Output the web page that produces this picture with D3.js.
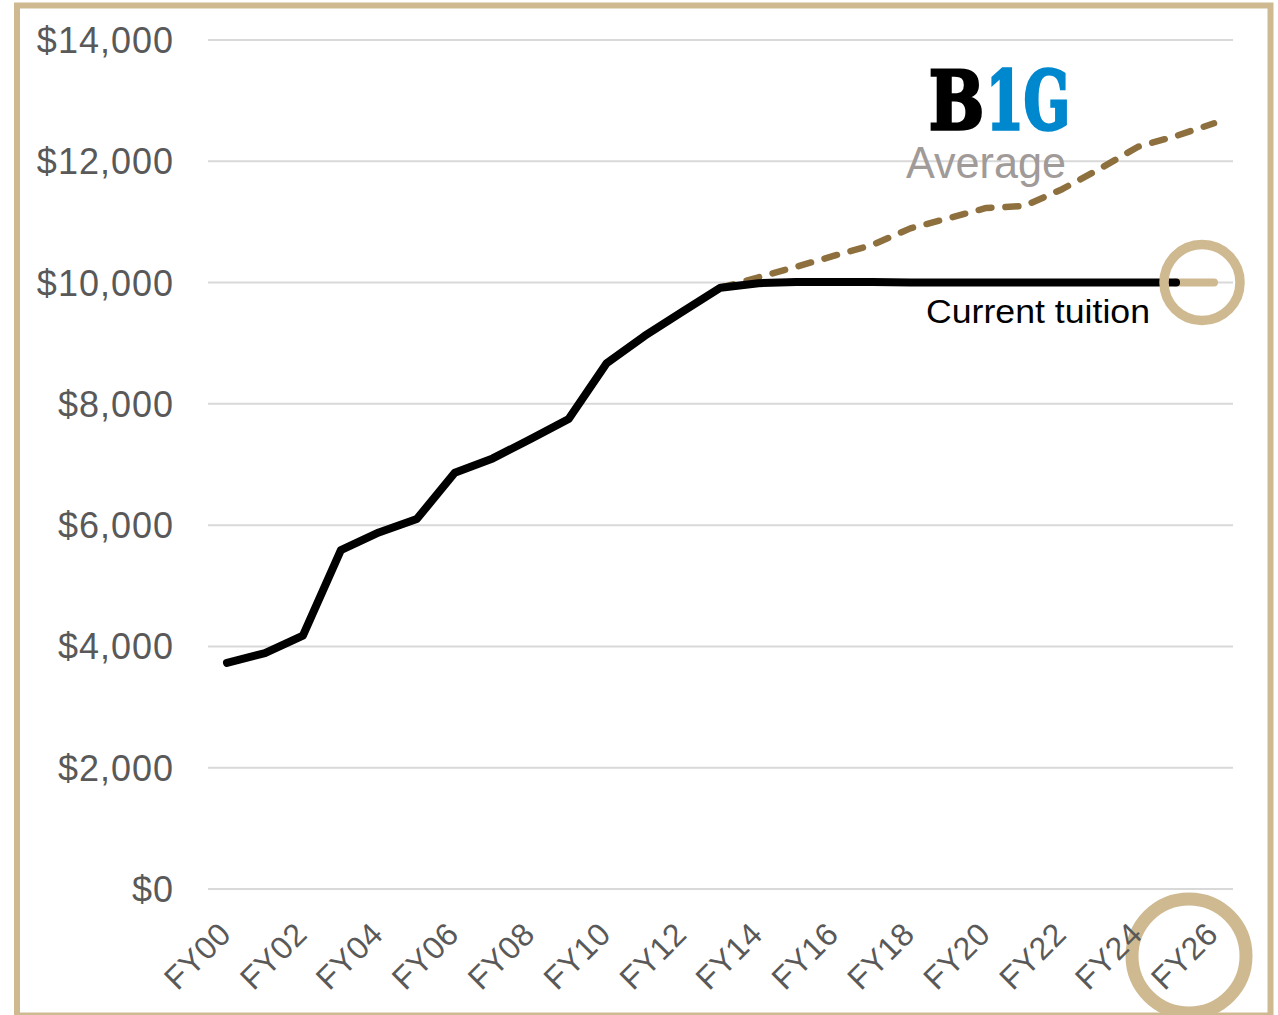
<!DOCTYPE html>
<html>
<head>
<meta charset="utf-8">
<script src="https://cdn.jsdelivr.net/npm/d3@7"></script>
<style>
  html, body { margin: 0; padding: 0; background: #fff; }
  svg { display: block; }
</style>
</head>
<body>
<svg id="chart" width="1278" height="1015"></svg>
<script>
// ---- data ----
const categories = ["FY00","FY01","FY02","FY03","FY04","FY05","FY06","FY07","FY08","FY09",
  "FY10","FY11","FY12","FY13","FY14","FY15","FY16","FY17","FY18","FY19",
  "FY20","FY21","FY22","FY23","FY24","FY25","FY26"];
const tickLabels = ["FY00","FY02","FY04","FY06","FY08","FY10","FY12","FY14","FY16","FY18","FY20","FY22","FY24","FY26"];
const yTicks = [0, 2000, 4000, 6000, 8000, 10000, 12000, 14000];

const tuitionCats = categories.slice(0, 26); // FY00..FY25
const tuitionValues = [3730, 3890, 4180, 5590, 5880, 6100, 6865, 7100, 7420, 7750,
  8670, 9120, 9520, 9915, 9990, 10010, 10010, 10010, 10000, 10000,
  10000, 10000, 10000, 10000, 10000, 10000];

const frozenCats = ["FY25", "FY26"];
const frozenValues = [10000, 10000];

const big10Cats = categories.slice(13); // FY13..FY26
const big10Values = [9915, 10086, 10261, 10443, 10620, 10894, 11060, 11230, 11263,
  11540, 11880, 12240, 12417, 12627];

// ---- layout ----
const svg = d3.select("#chart");
const plot = { left: 208, right: 1233, top: 40, bottom: 889 };

const gold = "#CFB991";
const agedGold = "#8E6F3E";
const textGray = "#595959";

const x = d3.scaleBand().domain(categories).range([plot.left, plot.right]).padding(0);
const xc = d => x(d) + x.bandwidth() / 2;
const y = d3.scaleLinear().domain([0, 14000]).range([plot.bottom, plot.top]);

// frame
svg.append("rect")
  .attr("x", 17).attr("y", 5.5)
  .attr("width", 1253.5).attr("height", 1010)
  .attr("fill", "none").attr("stroke", gold).attr("stroke-width", 6);

// gridlines
svg.append("g")
  .selectAll("line").data(yTicks).join("line")
  .attr("x1", plot.left).attr("x2", plot.right)
  .attr("y1", d => y(d)).attr("y2", d => y(d))
  .attr("stroke", "#D9D9D9").attr("stroke-width", 2);

// highlight circles (drawn under texts)
const lastCat = categories[categories.length - 1];
svg.append("circle")
  .attr("cx", xc(lastCat) - 25).attr("cy", plot.bottom + 67)
  .attr("r", 57)
  .attr("fill", "none").attr("stroke", gold).attr("stroke-width", 13);

// y axis labels
const fmt = d3.format(",");
svg.append("g")
  .selectAll("text").data(yTicks).join("text")
  .attr("x", 174)
  .attr("y", d => y(d) + 13)
  .attr("text-anchor", "end")
  .attr("font-family", "Liberation Sans, Arial, sans-serif")
  .attr("font-size", 36)
  .attr("letter-spacing", 1)
  .attr("fill", textGray)
  .text(d => "$" + fmt(d));

// x axis labels
svg.append("g")
  .selectAll("text").data(tickLabels).join("text")
  .attr("transform", d => `translate(${xc(d) + 6},${plot.bottom + 47}) rotate(-45)`)
  .attr("text-anchor", "end")
  .attr("font-family", "Liberation Sans, Arial, sans-serif")
  .attr("font-size", 32)
  .attr("letter-spacing", 0.5)
  .attr("fill", textGray)
  .text(d => d);

// lines
const line = d3.line().x(d => xc(d[0])).y(d => y(d[1]));

svg.append("path")
  .datum(d3.zip(big10Cats, big10Values))
  .attr("d", line)
  .attr("fill", "none")
  .attr("stroke", agedGold)
  .attr("stroke-width", 6.5)
  .attr("stroke-dasharray", "13,14")
  .attr("stroke-linecap", "round")
  .attr("stroke-linejoin", "round");

svg.append("path")
  .datum(d3.zip(frozenCats, frozenValues))
  .attr("d", line)
  .attr("fill", "none")
  .attr("stroke", gold)
  .attr("stroke-width", 8)
  .attr("stroke-linecap", "round");

svg.append("path")
  .datum(d3.zip(tuitionCats, tuitionValues))
  .attr("d", line)
  .attr("fill", "none")
  .attr("stroke", "#000")
  .attr("stroke-width", 8)
  .attr("stroke-linecap", "round")
  .attr("stroke-linejoin", "round");

svg.append("circle")
  .attr("cx", xc(lastCat) - 12).attr("cy", y(frozenValues[1]))
  .attr("r", 38)
  .attr("fill", "none").attr("stroke", gold).attr("stroke-width", 9.5);

// annotations
svg.append("text")
  .attr("x", 926).attr("y", 323)
  .attr("font-family", "Liberation Sans, Arial, sans-serif")
  .attr("font-size", 34)
  .attr("fill", "#000")
  .attr("textLength", 224).attr("lengthAdjust", "spacingAndGlyphs")
  .text("Current tuition");

// logo as two adjacent texts, scaled horizontally to fit
const logoParts = [
  { t: "B", x: 929, len: 55, c: "#000" },
  { t: "1G", x: 986, len: 84, c: "#0088CE" }
];
svg.append("g").selectAll("text").data(logoParts).join("text")
  .attr("font-family", "DejaVu Serif, serif")
  .attr("font-weight", 900)
  .attr("font-size", 80)
  .attr("stroke-width", 3.5)
  .attr("stroke-linejoin", "miter")
  .attr("fill", d => d.c).attr("stroke", d => d.c)
  .text(d => d.t)
  .each(function(d) {
    const natural = this.getComputedTextLength();
    const sx = d.len / natural;
    d3.select(this).attr("transform", `translate(${d.x},129) scale(${sx},1)`);
  });

svg.append("text")
  .attr("x", 906).attr("y", 178)
  .attr("font-family", "Liberation Sans, Arial, sans-serif")
  .attr("font-size", 44)
  .attr("fill", "#A09A98")
  .attr("textLength", 160).attr("lengthAdjust", "spacingAndGlyphs")
  .text("Average");
</script>
</body>
</html>
